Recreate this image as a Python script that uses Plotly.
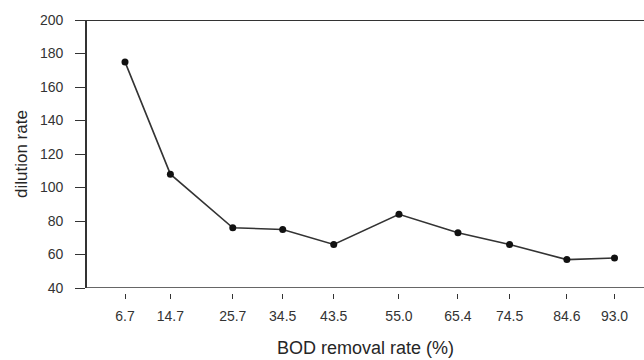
import plotly.graph_objects as go

# BOD removal rate (%) and the matching dilution rate
bod_removal = [6.7, 14.7, 25.7, 34.5, 43.5, 55.0, 65.4, 74.5, 84.6, 93.0]
dilution = [175, 108, 76, 75, 66, 84, 73, 66, 57, 58]
x_tick_text = ["6.7", "14.7", "25.7", "34.5", "43.5", "55.0", "65.4", "74.5", "84.6", "93.0"]
y_ticks = [40, 60, 80, 100, 120, 140, 160, 180, 200]

ink = "#262626"
tick_font = "Liberation Sans, Arial, sans-serif"
title_font = "Liberation Sans, Arial, sans-serif"

fig = go.Figure()
fig.add_trace(go.Scatter(
    x=bod_removal, y=dilution, mode="lines+markers",
    line=dict(color="#333333", width=1.6),
    marker=dict(color="#111111", size=7),
    showlegend=False,
))

# frame lines at the top and bottom of the plotting area
for yv in (200, 40):
    fig.add_shape(type="line", xref="paper", yref="y", x0=0, x1=1, y0=yv, y1=yv,
                  line=dict(color="#333333", width=1.8))

fig.update_layout(
    width=644, height=360,
    margin=dict(l=87, r=0, t=20, b=67, autoexpand=False),
    paper_bgcolor="white", plot_bgcolor="white",
    font=dict(family=title_font, color=ink, size=14),
    xaxis=dict(
        range=[0, 98.2], tickvals=bod_removal, ticktext=x_tick_text,
        showgrid=False, zeroline=False, showline=False,
        ticks="outside", ticklen=5, tickwidth=1.4, tickcolor="#333333",
        anchor="free", position=0, ticklabelstandoff=5,
        tickfont=dict(family=tick_font, size=14, color="#333333"),
        title=dict(text="BOD removal rate (%)", font=dict(family=title_font, size=18, color=ink),
                   standoff=18),
    ),
    yaxis=dict(
        range=[40, 200], tickvals=y_ticks, domain=[0.018, 1],
        showgrid=False, zeroline=False,
        showline=True, linecolor="#333333", linewidth=1.8,
        ticks="outside", ticklen=10, tickwidth=1.4, tickcolor="#333333",
        ticklabelstandoff=9,
        tickfont=dict(family=tick_font, size=14, color="#333333"),
        title=dict(text="dilution rate", font=dict(family=title_font, size=17, color=ink),
                   standoff=8),
    ),
)

fig.write_html("out.html")
